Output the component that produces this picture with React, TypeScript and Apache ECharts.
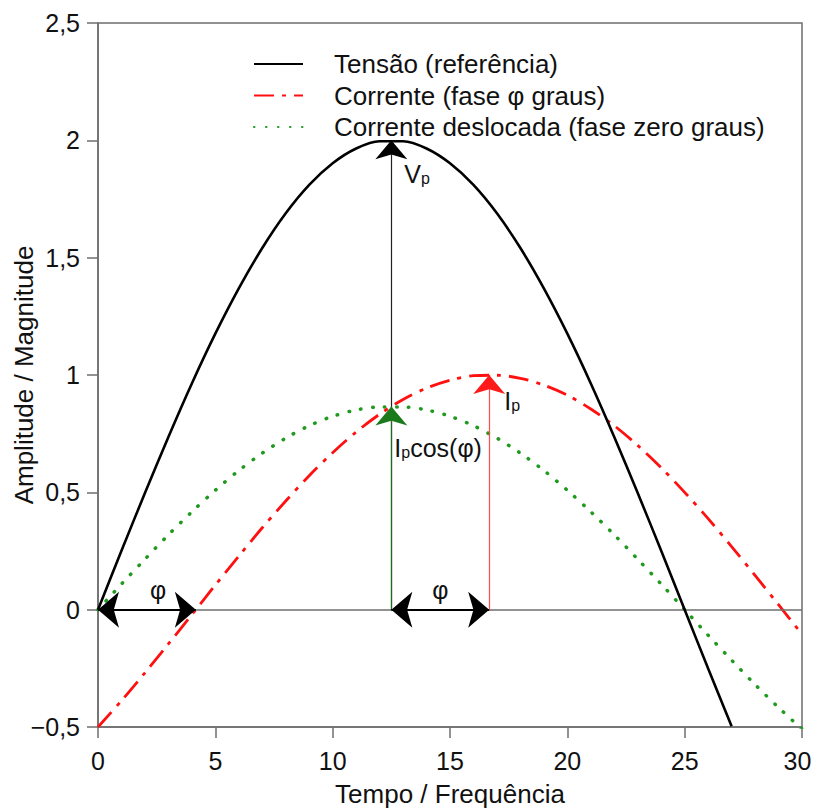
import React, { useEffect, useRef } from "react";
import * as echarts from "echarts";

// Time axis sample positions
const tempo = [0, 1, 2, 3, 4, 5, 6, 7, 8, 9, 10, 11, 12, 13, 14, 15, 16, 17, 18, 19, 20, 21, 22, 23, 24, 25, 26, 27, 28, 29, 30];
// Tensão (referência), up to t = 27
const tensao = [0, 0.251, 0.497, 0.736, 0.964, 1.176, 1.369, 1.541, 1.689, 1.81, 1.902, 1.965, 1.996, 1.996, 1.965, 1.902, 1.81, 1.689, 1.541, 1.369, 1.176, 0.964, 0.736, 0.497, 0.251, 0, -0.251, -0.497];
// Corrente (fase φ graus)
const corrente = [-0.5, -0.388, -0.269, -0.146, -0.021, 0.105, 0.228, 0.349, 0.463, 0.571, 0.669, 0.757, 0.833, 0.896, 0.944, 0.978, 0.997, 0.999, 0.986, 0.957, 0.914, 0.855, 0.784, 0.7, 0.605, 0.5, 0.388, 0.269, 0.146, 0.021, -0.105];
// Corrente deslocada (fase zero graus)
const deslocada = [0, 0.109, 0.215, 0.319, 0.417, 0.509, 0.593, 0.667, 0.731, 0.784, 0.824, 0.851, 0.864, 0.864, 0.851, 0.824, 0.784, 0.731, 0.667, 0.593, 0.509, 0.417, 0.319, 0.215, 0.109, 0, -0.109, -0.215, -0.319, -0.417, -0.509];

const seriesNames = ["Tensão (referência)", "Corrente (fase φ graus)", "Corrente deslocada (fase zero graus)"];

// Key annotation values
const tPicoV = 12.5; // peak of voltage
const tPicoI = 16.67; // peak of current
const defasagem = 4.17; // φ as time shift
const Vp = 2;
const Ip = 1;
const IpCos = 0.866;
const xMax = 30;

const FONT = "Liberation Sans, Arial, sans-serif";
const AXIS_GRAY = "#6e6e6e";

const fmt = (v: number) => String(v).replace(".", ",").replace("-", "\u2212");

const pairs = (ys: number[]) => ys.map((y, i) => [tempo[i], y]);

const arrowHead = (coord: number[], dir: "up" | "left" | "right", color: string) => {
  const rot = dir === "up" ? 0 : dir === "left" ? 90 : -90;
  const size = dir === "up" ? [24, 19] : [27, 21];
  return {
    coord,
    symbol: "arrow",
    symbolSize: size,
    symbolRotate: rot,
    symbolOffset: [0, 0],
    itemStyle: { color },
    label: { show: false },
  };
};

const textMark = (coord: number[], text: string, pos: number[]) => ({
  coord,
  symbol: "circle",
  symbolSize: 0,
  itemStyle: { color: "transparent" },
  label: {
    show: true,
    position: pos,
    formatter: text,
    color: "#111",
    fontFamily: FONT,
    fontSize: 25,
    rich: {
      m: { fontSize: 25, lineHeight: 27, fontFamily: FONT, color: "#111", verticalAlign: "bottom" },
      s: { fontSize: 16, lineHeight: 16, fontFamily: FONT, color: "#111", verticalAlign: "bottom" },
    },
  },
});

export default function App() {
  const ref = useRef<HTMLDivElement>(null);
  useEffect(() => {
    if (!ref.current) return;
    const chart = echarts.init(ref.current, null, { renderer: "svg" });
    chart.setOption({
      animation: false,
      backgroundColor: "#fff",
      textStyle: { fontFamily: FONT },
      grid: {
        left: 98,
        right: 12,
        top: 23,
        bottom: 81,
        containLabel: false,
        outerBoundsMode: "none",
        show: true,
        borderColor: AXIS_GRAY,
        borderWidth: 1.5,
        backgroundColor: "transparent",
      },
      legend: {
        data: seriesNames,
        orient: "vertical",
        left: 248,
        top: 46,
        itemWidth: 49,
        itemHeight: 14,
        itemGap: 5.5,
        selectedMode: false,
        itemStyle: { opacity: 0 },
        textStyle: { fontSize: 26, color: "#111", fontFamily: FONT, padding: [0, 0, 0, 26] },
      },
      xAxis: {
        type: "value",
        min: 0,
        max: xMax,
        interval: 5,
        name: "Tempo / Frequência",
        nameLocation: "middle",
        nameGap: 54,
        nameMoveOverlap: false,
        nameTextStyle: { fontSize: 26, color: "#111", fontFamily: FONT, verticalAlign: "top" },
        axisLine: { show: true, onZero: false, lineStyle: { color: AXIS_GRAY, width: 1.5 } },
        axisTick: { show: true, inside: false, length: 11, lineStyle: { color: AXIS_GRAY, width: 1.5 } },
        axisLabel: {
          fontSize: 25,
          color: "#111",
          fontFamily: FONT,
          margin: 21,
          formatter: (v: number) => (v === xMax ? "{e|" + fmt(v) + "}" : fmt(v)),
          rich: { e: { fontSize: 25, color: "#111", fontFamily: FONT, padding: [0, 9, 0, 0] } },
        },
        splitLine: { show: false },
      },
      yAxis: {
        type: "value",
        min: -0.5,
        max: 2.5,
        interval: 0.5,
        name: "Amplitude / Magnitude",
        nameLocation: "middle",
        nameGap: 61,
        nameMoveOverlap: false,
        nameTextStyle: { fontSize: 26, color: "#111", fontFamily: FONT },
        axisLine: { show: true, onZero: false, lineStyle: { color: AXIS_GRAY, width: 1.5 } },
        axisTick: { show: true, inside: false, length: 11, lineStyle: { color: AXIS_GRAY, width: 1.5 } },
        axisLabel: { fontSize: 25, color: "#111", fontFamily: FONT, margin: 18, formatter: fmt },
        splitLine: { show: false },
      },
      series: [
        {
          name: "zero",
          type: "line",
          data: [],
          silent: true,
          z: 1,
          markLine: {
            silent: true,
            symbol: "none",
            label: { show: false },
            lineStyle: { color: AXIS_GRAY, width: 1.5, type: "solid" },
            data: [{ yAxis: 0 }],
          },
        },
        {
          name: seriesNames[2],
          type: "line",
          data: pairs(deslocada),
          smooth: 0.3,
          showSymbol: false,
          symbol: "none",
          z: 3,
          itemStyle: { color: "#1f9a1f" },
          lineStyle: { color: "#1f9a1f", width: 3.5, type: [0.5, 11.5], cap: "round" },
        },
        {
          name: seriesNames[1],
          type: "line",
          data: pairs(corrente),
          smooth: 0.3,
          showSymbol: false,
          symbol: "none",
          z: 4,
          itemStyle: { color: "#ff1010" },
          lineStyle: { color: "#ff1010", width: 2.8, type: [20, 8, 4, 8] },
        },
        {
          name: seriesNames[0],
          type: "line",
          data: pairs(tensao),
          smooth: 0.3,
          showSymbol: false,
          symbol: "none",
          z: 5,
          itemStyle: { color: "#000" },
          lineStyle: { color: "#000", width: 2.6 },
        },
        {
          name: "anotacoes",
          type: "line",
          data: [],
          silent: true,
          z: 6,
          markLine: {
            silent: true,
            symbol: "none",
            label: { show: false },
            emphasis: { disabled: true },
            data: [
              [{ coord: [tPicoV, 0], lineStyle: { color: "#222", width: 1.2, type: "solid" } }, { coord: [tPicoV, Vp] }],
              [{ coord: [tPicoV, 0], lineStyle: { color: "#1b6e1b", width: 1.2, type: "solid" } }, { coord: [tPicoV, IpCos] }],
              [{ coord: [tPicoI, 0], lineStyle: { color: "#ff4d4d", width: 1.2, type: "solid" } }, { coord: [tPicoI, Ip] }],
              [{ coord: [0, 0], lineStyle: { color: "#000", width: 2, type: "solid" } }, { coord: [defasagem, 0] }],
              [{ coord: [tPicoV, 0], lineStyle: { color: "#000", width: 2, type: "solid" } }, { coord: [tPicoI, 0] }],
            ],
          },
          markPoint: {
            silent: true,
            data: [
              arrowHead([tPicoV, Vp], "up", "#000"),
              arrowHead([tPicoV, IpCos], "up", "#1b7a1b"),
              arrowHead([tPicoI, Ip], "up", "#ff1a1a"),
              arrowHead([0, 0], "left", "#000"),
              arrowHead([defasagem, 0], "right", "#000"),
              arrowHead([tPicoV, 0], "left", "#000"),
              arrowHead([tPicoI, 0], "right", "#000"),
              textMark([tPicoV, Vp], "{m|V}{s|p}", [13, 19]),
              textMark([tPicoI, Ip], "{m|I}{s|p}", [15, 11]),
              textMark([tPicoV, IpCos], "{m|I}{s|p}{m|cos(φ)}", [3, 27]),
              textMark([0, 0], "{m|φ}", [52, -34]),
              textMark([tPicoV, 0], "{m|φ}", [41, -34]),
            ],
          },
        },
      ],
    });
    return () => chart.dispose();
  }, []);
  return <div ref={ref} style={{ position: "fixed", left: 0, top: 0, width: 814, height: 808 }} />;
}
